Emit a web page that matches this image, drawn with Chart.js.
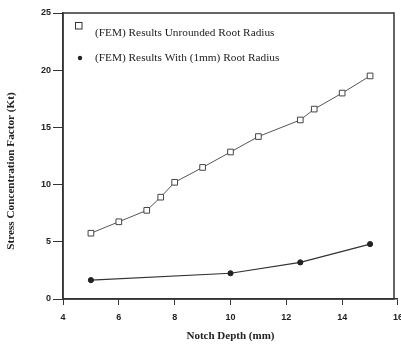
<!DOCTYPE html>
<html><head><meta charset="utf-8">
<script src="https://cdn.jsdelivr.net/npm/chart.js@4/dist/chart.umd.min.js"></script>
<style>
html,body{margin:0;padding:0;background:#fff;overflow:hidden;width:401px;height:347px;}
canvas{display:block;}
</style></head>
<body><canvas id="c" width="410" height="347" style="width:410px;height:347px"></canvas>
<script>
const seriesNames = ["(FEM) Results Unrounded Root Radius", "(FEM) Results With (1mm) Root Radius"];
const unroundedDepth = [5, 6, 7, 7.5, 8, 9, 10, 11, 12.5, 13, 14, 15];
const unroundedKt    = [5.75, 6.75, 7.75, 8.9, 10.2, 11.5, 12.85, 14.2, 15.65, 16.6, 18.0, 19.5];
const roundedDepth = [5, 10, 12.5, 15];
const roundedKt    = [1.65, 2.25, 3.2, 4.8];
const xTicks = [4, 6, 8, 10, 12, 14, 16];
const yTicks = [0, 5, 10, 15, 20, 25];
const xTitle = "Notch Depth (mm)";
const yTitle = "Stress Concentration Factor (Kt)";

const ink = '#333';
const toPts = (xs, ys) => xs.map((x, i) => ({x, y: ys[i]}));

const framePlugin = {
  id: 'frame',
  afterDraw(chart) {
    const {ctx, chartArea: a} = chart;
    ctx.save();
    ctx.strokeStyle = ink;
    ctx.lineWidth = 1.5;
    ctx.strokeRect(a.left, a.top, 394 - a.left, a.bottom - a.top);
    ctx.restore();
  }
};

const textPlugin = {
  id: 'texts',
  afterDraw(chart) {
    const {ctx} = chart;
    ctx.save();
    ctx.font = '11.3px "Liberation Serif", serif';
    ctx.fillStyle = '#222';
    ctx.textBaseline = 'middle';
    ctx.strokeStyle = ink; ctx.lineWidth = 1;
    ctx.strokeRect(75.5, 22.5, 6.5, 6.5);
    ctx.fillText(seriesNames[0], 95, 33);
    ctx.beginPath(); ctx.arc(80, 58, 2.2, 0, Math.PI * 2); ctx.fill();
    ctx.fillText(seriesNames[1], 95, 58);
    // y axis title
    ctx.translate(11, 171);
    ctx.rotate(-Math.PI / 2);
    ctx.textAlign = 'center';
    ctx.font = 'bold 11.2px "Liberation Serif", serif';
    ctx.fillText(yTitle, 0, 0);
    ctx.restore();
  }
};

new Chart(document.getElementById('c'), {
  type: 'scatter',
  data: {
    datasets: [
      { label: seriesNames[0], data: toPts(unroundedDepth, unroundedKt), showLine: true,
        borderColor: '#555', borderWidth: 1, pointStyle: 'rect', pointRadius: 4,
        pointBackgroundColor: '#fff', pointBorderColor: '#444', pointBorderWidth: 1 },
      { label: seriesNames[1], data: toPts(roundedDepth, roundedKt), showLine: true,
        borderColor: '#333', borderWidth: 1.2, pointStyle: 'circle', pointRadius: 2.6,
        pointBackgroundColor: '#222', pointBorderColor: '#222', pointBorderWidth: 1 }
    ]
  },
  options: {
    responsive: false, animation: false, devicePixelRatio: 1,
    layout: { padding: { left: 2, top: 13, right: 12, bottom: 4 } },
    plugins: { legend: { display: false }, tooltip: { enabled: false } },
    scales: {
      x: {
        type: 'linear', min: 4, max: 16,
        afterBuildTicks: s => { s.ticks = xTicks.map(v => ({value: v})); },
        afterFit: s => { s.height = 44; },
        grid: { display: true, drawOnChartArea: false, tickLength: 6, color: ink, lineWidth: 1 },
        border: { display: true, color: ink, width: 1.5 },
        ticks: { color: '#222', padding: 7, font: { family: '"Liberation Sans", sans-serif', size: 9, weight: 'bold' } },
        title: { display: true, text: xTitle, color: '#222', padding: { top: 2, bottom: 0 },
          font: { family: '"Liberation Serif", serif', size: 11, weight: 'bold' } }
      },
      y: {
        min: 0, max: 25,
        afterBuildTicks: s => { s.ticks = yTicks.map(v => ({value: v})); },
        afterFit: s => { s.width = 61; },
        grid: { display: true, drawOnChartArea: false, tickLength: 10, color: ink, lineWidth: 1 },
        border: { display: true, color: ink, width: 1.5 },
        ticks: { color: '#222', padding: 2, font: { family: '"Liberation Sans", sans-serif', size: 9, weight: 'bold' } },
        title: { display: false }
      }
    }
  },
  plugins: [framePlugin, textPlugin]
});
</script>
</body></html>
